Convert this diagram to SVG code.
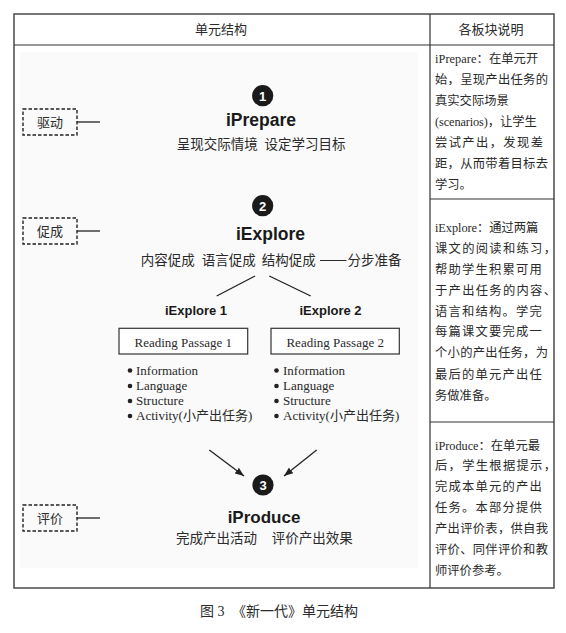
<svg xmlns="http://www.w3.org/2000/svg" width="566" height="633" viewBox="0 0 566 633">
<style>
.cj{font-family:"Noto Sans CJK SC","Liberation Sans",sans-serif;fill:#2a2a2a}
.sf{font-family:"Liberation Serif","Noto Sans CJK SC",serif;fill:#2a2a2a}
.bd{font-family:"Liberation Sans",Arial,sans-serif;font-weight:bold;fill:#1a1a1a}
.num{font-family:"Liberation Sans",Arial,sans-serif;font-weight:bold;fill:#fff;font-size:13px}
.dash{fill:none;stroke:#222;stroke-width:1.4;stroke-dasharray:3.5 2}
.ln{stroke:#222;stroke-width:1.3;fill:none}
.box{fill:#fff;stroke:#333;stroke-width:1.2}
.desc{font-size:12.3px}
.bul{fill:#222}
</style>
<defs>
<marker id="ah" markerUnits="userSpaceOnUse" markerWidth="9" markerHeight="7" refX="9" refY="3.5" orient="auto">
<path d="M0,0 L9,3.5 L0,7 z" fill="#222"/>
</marker>
</defs>
<rect width="566" height="633" fill="#fff"/>
<g id="table">
<rect x="20" y="52" width="398" height="516" fill="#fafafa"/>
<rect x="14" y="14" width="540" height="574" fill="none" stroke="#555" stroke-width="1.6"/>
<line x1="14" y1="45" x2="554" y2="45" stroke="#333" stroke-width="1.2"/>
<line x1="430" y1="14" x2="430" y2="588" stroke="#333" stroke-width="1.2"/>
<line x1="430" y1="199" x2="554" y2="199" stroke="#333" stroke-width="1"/>
<line x1="430" y1="422" x2="554" y2="422" stroke="#333" stroke-width="1"/>
<text class="cj" x="221" y="34" font-size="13" text-anchor="middle">单元结构</text>
<text class="cj" x="491" y="34" font-size="13" text-anchor="middle">各板块说明</text>
</g>
<g id="connectors">
<line class="ln" x1="77" y1="122" x2="100" y2="122"/>
<line class="ln" x1="77" y1="231" x2="100" y2="231"/>
<line class="ln" x1="77" y1="518" x2="100" y2="518"/>
<line class="ln" x1="255" y1="276" x2="216.7" y2="296"/>
<line class="ln" x1="269.3" y1="276" x2="310.7" y2="296"/>
<line class="ln" x1="209.3" y1="450" x2="244" y2="476" marker-end="url(#ah)"/>
<line class="ln" x1="316.7" y1="450" x2="284" y2="476" marker-end="url(#ah)"/>
</g>
<g id="label-qudong">
<rect class="dash" x="23" y="109" width="54" height="26"/>
<text class="cj" x="50" y="127" font-size="13" text-anchor="middle">驱动</text>
</g>
<g id="label-cucheng">
<rect class="dash" x="23" y="218" width="54" height="26"/>
<text class="cj" x="50" y="236" font-size="13" text-anchor="middle">促成</text>
</g>
<g id="label-pingjia">
<rect class="dash" x="23" y="505" width="54" height="26"/>
<text class="cj" x="50" y="523" font-size="13" text-anchor="middle">评价</text>
</g>
<g id="iprepare">
<circle cx="262.7" cy="95.7" r="10.6" fill="#1a1a1a"/>
<text class="num" x="262.7" y="100.5" text-anchor="middle">1</text>
<text class="bd" x="261" y="125.7" font-size="17.5" text-anchor="middle">iPrepare</text>
<text class="cj" x="176.7" y="149" font-size="13.5" textLength="81" lengthAdjust="spacing">呈现交际情境</text>
<text class="cj" x="264.4" y="149" font-size="13.5" textLength="81" lengthAdjust="spacing">设定学习目标</text>
</g>
<g id="iexplore">
<circle cx="262.7" cy="205.7" r="10.6" fill="#1a1a1a"/>
<text class="num" x="262.7" y="210.5" text-anchor="middle">2</text>
<text class="bd" x="270.5" y="240" font-size="17.5" text-anchor="middle">iExplore</text>
<text class="cj" x="140.7" y="265" font-size="13.5" textLength="54" lengthAdjust="spacing">内容促成</text>
<text class="cj" x="201.7" y="265" font-size="13.5" textLength="54" lengthAdjust="spacing">语言促成</text>
<text class="cj" x="261.7" y="265" font-size="13.5" textLength="54" lengthAdjust="spacing">结构促成</text>
<line x1="320" y1="260.5" x2="346.5" y2="260.5" stroke="#2a2a2a" stroke-width="1"/>
<text class="cj" x="347.5" y="265" font-size="13.5" textLength="54" lengthAdjust="spacing">分步准备</text>
</g>
<g id="iexplore1">
<text class="bd" x="196" y="315" font-size="13" text-anchor="middle">iExplore 1</text>
<rect class="box" x="119" y="328.3" width="128.7" height="25.7"/>
<text class="sf" x="183.3" y="346.5" font-size="13" text-anchor="middle">Reading Passage 1</text>
<circle class="bul" cx="130" cy="370.5" r="2.3"/>
<circle class="bul" cx="130" cy="386" r="2.3"/>
<circle class="bul" cx="130" cy="401" r="2.3"/>
<circle class="bul" cx="130" cy="416" r="2.3"/>
<text class="sf" font-size="13"><tspan x="136" y="374.5">Information</tspan><tspan x="136" y="390">Language</tspan><tspan x="136" y="405">Structure</tspan><tspan x="136" y="420">Activity(小产出任务)</tspan></text>
</g>
<g id="iexplore2">
<text class="bd" x="330.5" y="315" font-size="13" text-anchor="middle">iExplore 2</text>
<rect class="box" x="271" y="328.3" width="128.3" height="25.7"/>
<text class="sf" x="335.2" y="346.5" font-size="13" text-anchor="middle">Reading Passage 2</text>
<circle class="bul" cx="276.5" cy="370.5" r="2.3"/>
<circle class="bul" cx="276.5" cy="386" r="2.3"/>
<circle class="bul" cx="276.5" cy="401" r="2.3"/>
<circle class="bul" cx="276.5" cy="416" r="2.3"/>
<text class="sf" font-size="13"><tspan x="283" y="374.5">Information</tspan><tspan x="283" y="390">Language</tspan><tspan x="283" y="405">Structure</tspan><tspan x="283" y="420">Activity(小产出任务)</tspan></text>
</g>
<g id="iproduce">
<circle cx="263" cy="485" r="10.6" fill="#1a1a1a"/>
<text class="num" x="263" y="489.8" text-anchor="middle">3</text>
<text class="bd" x="264" y="522.7" font-size="17" text-anchor="middle">iProduce</text>
<text class="cj" x="176" y="543" font-size="13.5" textLength="81" lengthAdjust="spacing">完成产出活动</text>
<text class="cj" x="271.7" y="543" font-size="13.5" textLength="81" lengthAdjust="spacing">评价产出效果</text>
</g>
<g id="desc-iprepare" class="sf desc">
<text x="435" y="63" textLength="103.3" lengthAdjust="spacing">iPrepare：在单元开</text>
<text x="435" y="84" textLength="113" lengthAdjust="spacing">始，呈现产出任务的</text>
<text x="435" y="105">真实交际场景</text>
<text x="435" y="126" textLength="101.7" lengthAdjust="spacing">(scenarios)，让学生</text>
<text x="435" y="147" textLength="108" lengthAdjust="spacing">尝试产出，发现差</text>
<text x="435" y="168" textLength="113" lengthAdjust="spacing">距，从而带着目标去</text>
<text x="435" y="189">学习。</text>
</g>
<g id="desc-iexplore" class="sf desc">
<text x="435" y="232" textLength="103.3" lengthAdjust="spacing">iExplore：通过两篇</text>
<text x="435" y="253" textLength="121" lengthAdjust="spacing">课文的阅读和练习，</text>
<text x="435" y="273.5" textLength="106.7" lengthAdjust="spacing">帮助学生积累可用</text>
<text x="435" y="294.5" textLength="121" lengthAdjust="spacing">于产出任务的内容、</text>
<text x="435" y="315.5" textLength="106.7" lengthAdjust="spacing">语言和结构。学完</text>
<text x="435" y="336" textLength="106.7" lengthAdjust="spacing">每篇课文要完成一</text>
<text x="435" y="357" textLength="113" lengthAdjust="spacing">个小的产出任务，为</text>
<text x="435" y="378.5" textLength="106.7" lengthAdjust="spacing">最后的单元产出任</text>
<text x="435" y="399.5">务做准备。</text>
</g>
<g id="desc-iproduce" class="sf desc">
<text x="435" y="449.5" textLength="105" lengthAdjust="spacing">iProduce：在单元最</text>
<text x="435" y="470" textLength="121" lengthAdjust="spacing">后，学生根据提示，</text>
<text x="435" y="491" textLength="106.7" lengthAdjust="spacing">完成本单元的产出</text>
<text x="435" y="512" textLength="106.7" lengthAdjust="spacing">任务。本部分提供</text>
<text x="435" y="533" textLength="113" lengthAdjust="spacing">产出评价表，供自我</text>
<text x="435" y="554" textLength="113" lengthAdjust="spacing">评价、同伴评价和教</text>
<text x="435" y="574.5">师评价参考。</text>
</g>
<g id="caption">
<text class="sf" x="200" y="616" font-size="14">图 3<tspan x="232">《新一代》单元结构</tspan></text>
</g>
</svg>
